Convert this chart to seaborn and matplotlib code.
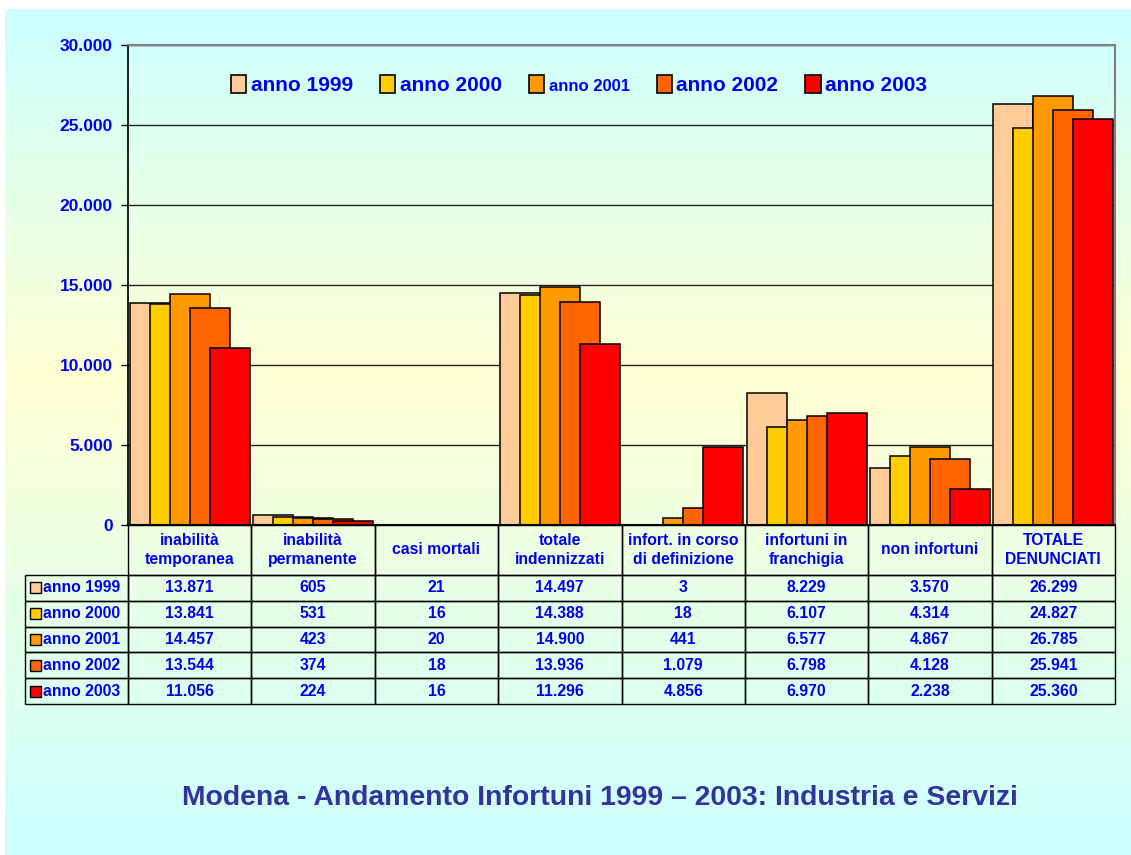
import numpy as np
import pandas as pd
import matplotlib
matplotlib.use("Agg")
import matplotlib.pyplot as plt
from matplotlib.patches import Patch, Rectangle
from matplotlib.ticker import FuncFormatter, MultipleLocator
import seaborn as sns

# ---------------- data ----------------
categories = ["inabilità\ntemporanea", "inabilità\npermanente", "casi mortali",
              "totale\nindennizzati", "infort. in corso\ndi definizione",
              "infortuni in\nfranchigia", "non infortuni", "TOTALE\nDENUNCIATI"]
years = ["anno 1999", "anno 2000", "anno 2001", "anno 2002", "anno 2003"]
v1999 = [13871, 605, 21, 14497, 3, 8229, 3570, 26299]
v2000 = [13841, 531, 16, 14388, 18, 6107, 4314, 24827]
v2001 = [14457, 423, 20, 14900, 441, 6577, 4867, 26785]
v2002 = [13544, 374, 18, 13936, 1079, 6798, 4128, 25941]
v2003 = [11056, 224, 16, 11296, 4856, 6970, 2238, 25360]
colors = ["#FFCC99", "#FFCC00", "#FF9900", "#FF6600", "#FF0000"]
title = "Modena - Andamento Infortuni 1999 – 2003: Industria e Servizi"

series = [v1999, v2000, v2001, v2002, v2003]
df = pd.DataFrame({
    "categoria": categories * len(years),
    "anno": [y for y in years for _ in categories],
    "valore": [v for s in series for v in s],
})

def fmt(v):
    return f"{v:,}".replace(",", ".")

sns.set_theme(style="white")
plt.rcParams["font.family"] = ["Liberation Sans", "DejaVu Sans"]
plt.rcParams["font.weight"] = "bold"

W, H = 1131, 855
fig = plt.figure(figsize=(W / 100, H / 100), dpi=100)
fig.patch.set_facecolor("white")

# gradient background
bg = fig.add_axes([5 / W, 0, (W - 5) / W, (H - 9) / H], zorder=-10)
ys = np.linspace(9, H, 400)
top = np.array([0.80, 1.0, 1.0])
mid = np.array([1.0, 1.0, 0.83])
t = np.where(ys < 380, (ys - 9) / (380 - 9), (H - ys) / (H - 380))
t = np.clip(t, 0, 1)[:, None]
grad = top * (1 - t) + mid * t
bg.imshow(grad[:, None, :], aspect="auto", extent=[0, 1, 0, 1])
bg.set_axis_off()

# main axes
L, B, R, T = 128, 525, 1115, 45
ax = fig.add_axes([L / W, (H - B) / H, (R - L) / W, (B - T) / H])
ax.patch.set_alpha(0)

step = 20 / 123.4
bw = 40 / 123.4
sns.barplot(data=df, x="categoria", y="valore", hue="anno", palette=colors,
            dodge=False, width=bw, edgecolor="black", linewidth=1.1,
            legend=False, ax=ax, errorbar=None, saturation=1)
for i, cont in enumerate(ax.containers):
    for p in cont.patches:
        p.set_x(p.get_x() + (i - 2) * step)

ax.set_xlim(-0.5, len(categories) - 0.5)
ax.set_ylim(0, 30000)
ax.yaxis.set_major_locator(MultipleLocator(5000))
ax.yaxis.set_major_formatter(FuncFormatter(lambda v, p: fmt(int(v))))
ax.set_axisbelow(True)
ax.grid(axis="y", color="#222222", linewidth=1)
ax.grid(axis="x", visible=False)
ax.set_xlabel("")
ax.set_ylabel("")
ax.set_xticks([])
ax.tick_params(axis="y", left=True, length=5, width=1, color="black",
               pad=6, labelsize=12.5, labelcolor="#0000EE")
for lbl in ax.get_yticklabels():
    lbl.set_fontweight("bold")
ax.spines["left"].set_color("black")
ax.spines["bottom"].set_color("black")
ax.spines["bottom"].set_linewidth(1.5)
ax.spines["top"].set_color("#808080")
ax.spines["right"].set_color("#808080")
ax.spines["top"].set_linewidth(1.5)
ax.spines["right"].set_linewidth(1.5)

# legend
handles = [Patch(facecolor=c, edgecolor="black", linewidth=1.2) for c in colors]
leg = ax.legend(handles, years, ncol=5, loc="center", bbox_to_anchor=(0.457, 0.917),
                frameon=False, handlelength=0.75, handleheight=1.0,
                handletextpad=0.2, columnspacing=1.3, prop={"size": 15, "weight": "bold"})
for i, txt in enumerate(leg.get_texts()):
    txt.set_color("#0000EE")
    if i == 2:
        txt.set_fontsize(12)

# table
ncol = len(categories)
cell_text = [[y] + [fmt(v) for v in s] for y, s in zip(years, series)]
col_labels = [""] + categories
tab = ax.table(cellText=cell_text, colLabels=col_labels, cellLoc="center",
               loc="bottom", bbox=[(25 - L) / (R - L), -(704 - B) / (B - T),
                                   (R - 25) / (R - L), (704 - B) / (B - T)])
tab.auto_set_font_size(False)
lab_w = (L - 25) / (R - L)
col_w = 1 / ncol
hdr_h = 50 / (B - T)
row_h = 25.8 / (B - T)
for (r, c), cell in tab.get_celld().items():
    cell.set_facecolor("none")
    cell.set_edgecolor("black")
    cell.set_linewidth(1)
    cell.set_width(lab_w if c == 0 else col_w)
    cell.set_height(hdr_h if r == 0 else row_h)
    txt = cell.get_text()
    txt.set_color("#0000EE")
    txt.set_fontweight("bold")
    txt.set_fontsize(11.3)
    if r == 0:
        txt.set_linespacing(1.4)
    if r == 0 and c == 0:
        cell.visible_edges = ""
    if c == 0 and r > 0:
        txt.set_ha("left")
        cell.PAD = 0.17
        cell._loc = "left"

# colour keys in the row label cells
for i, c in enumerate(colors):
    yc = (B - (575 + 25.8 * i + 12.9)) / (B - T)
    ax.add_patch(Rectangle(((30 - L) / (R - L), yc - 5.5 / (B - T)),
                           11 / (R - L), 11 / (B - T), transform=ax.transAxes,
                           facecolor=c, edgecolor="black", linewidth=1,
                           clip_on=False, zorder=5))

fig.text(600 / W, 1 - 798 / H, title, ha="center", va="center",
         fontsize=20.4, fontweight="bold", color="#333399")

fig.savefig("out.png", dpi=100)
